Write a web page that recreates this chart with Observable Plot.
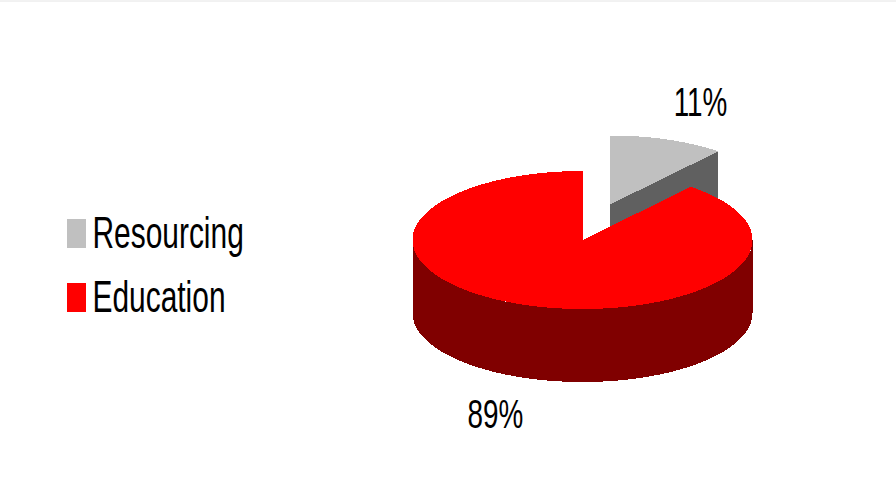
<!DOCTYPE html>
<html>
<head>
<meta charset="utf-8">
<script src="https://cdn.jsdelivr.net/npm/d3@7"></script>
<script src="https://cdn.jsdelivr.net/npm/@observablehq/plot@0.6"></script>
<style>
  html, body { margin: 0; padding: 0; background: #fff; }
  svg { display: block; }
</style>
</head>
<body>
<div id="chart"></div>
<script>
// Share of spending by category, in percent
const categories = ["Resourcing", "Education"];
const shares = [11, 89];

const topColors = ["#c0c0c0", "#ff0000"];
const sideColors = ["#606060", "#800000"];

// Pie geometry: ellipse of the top face, wall depth, offset of the pulled-out slice
const pie = {cx: 582, cy: 239.5, rx: 170, ry: 69, depth: 73};
const pull = {dx: 27.5, dy: -35.5};
const labelFont = "'Liberation Sans', Arial, sans-serif";
const narrow = 0.68; // horizontal condensing applied to all labels

const total = d3.sum(shares);
const sweep = shares.map((v) => (v / total) * 2 * Math.PI);

// A point on the top ellipse, angle measured clockwise from twelve o'clock
const rim = (a, ox = 0, oy = 0) => [
  pie.cx + ox + pie.rx * Math.sin(a),
  pie.cy + oy - pie.ry * Math.cos(a)
];
const arc = (a0, a1, ox, oy, n = 240) =>
  d3.range(n + 1).map((i) => rim(a0 + ((a1 - a0) * i) / n, ox, oy));

const [greySweep] = sweep;
const apexGrey = [pie.cx + pull.dx, pie.cy + pull.dy];

// Top faces
const greyTop = [apexGrey, ...arc(0, greySweep, pull.dx, pull.dy), apexGrey];
const redTop = [[pie.cx, pie.cy], ...arc(greySweep, 2 * Math.PI, 0, 0), [pie.cx, pie.cy]];

// Cut face of the grey slice, seen through the gap
const greyEdge = rim(greySweep, pull.dx, pull.dy);
const greyFace = [
  apexGrey,
  greyEdge,
  [greyEdge[0], greyEdge[1] + pie.depth],
  [apexGrey[0], apexGrey[1] + pie.depth],
  apexGrey
];

// Front wall of the red slice: near half of the ellipse, swept down by the depth
const wallFront = arc(Math.PI / 2, (3 * Math.PI) / 2, 0, 0);
const redWall = [
  ...wallFront,
  ...wallFront.slice().reverse().map(([x, y]) => [x, y + pie.depth])
];

const polygon = (points, fill) =>
  Plot.line(points, {x: "0", y: "1", fill, stroke: "none", curve: "linear", shapeRendering: "crispEdges"});

// Legend rows and value labels
const legendRows = categories.map((name, i) => ({
  name,
  color: topColors[i],
  top: [219, 283][i]
}));
const valueLabels = shares.map((v, i) => ({
  text: `${v}%`,
  x: [700, 495][i],
  y: [102, 414][i]
}));

const chart = Plot.plot({
  width: 896,
  height: 480,
  margin: 0,
  x: {domain: [0, 896], range: [0, 896], axis: null},
  y: {domain: [0, 480], range: [0, 480], axis: null},
  marks: [
    Plot.ruleY([0.5], {stroke: "#e4e4e4", strokeWidth: 1}),
    polygon(greyFace, sideColors[0]),
    polygon(greyTop, topColors[0]),
    polygon(redWall, sideColors[1]),
    polygon(redTop, topColors[1]),
    Plot.rect(legendRows, {
      x1: () => 67, x2: () => 86,
      y1: "top", y2: (d) => d.top + 29,
      fill: "color"
    }),
    Plot.text(legendRows, {
      x: () => 92, y: (d) => d.top + 14,
      text: "name", textAnchor: "start",
      fontFamily: labelFont, fontSize: 44, fill: "#000"
    }),
    Plot.text(valueLabels, {
      x: "x", y: "y", text: "text",
      fontFamily: labelFont, fontSize: 41, fill: "#000"
    })
  ]
});

// Liberation Sans has no narrow cut here, so condense the glyphs in place
d3.select(chart).selectAll("text").attr("transform", function () {
  return `${this.getAttribute("transform") || ""} scale(${narrow},1)`;
});

document.getElementById("chart").append(chart);
</script>
</body>
</html>
